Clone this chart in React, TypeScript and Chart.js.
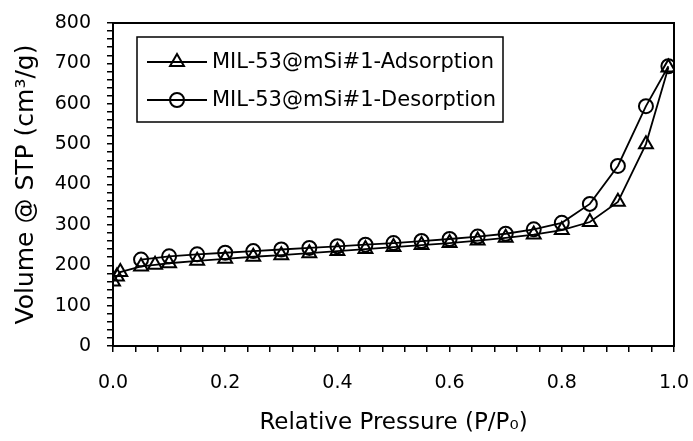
import { useEffect, useRef } from "react";
import { Chart, registerables } from "chart.js";
Chart.register(...registerables);

const adsorptionLabel = "MIL-53@mSi#1-Adsorption";
const desorptionLabel = "MIL-53@mSi#1-Desorption";

const adsorptionP = [0.0, 0.007, 0.013, 0.05, 0.075, 0.1, 0.15, 0.2, 0.25, 0.3, 0.35, 0.4, 0.45, 0.5, 0.55, 0.6, 0.65, 0.7, 0.75, 0.8, 0.85, 0.9, 0.95, 0.99];
const adsorptionV = [160, 172, 183, 197, 201, 205, 211, 216, 221, 225, 230, 235, 240, 245, 250, 255, 261, 268, 276, 287, 307, 357, 500, 690];

const desorptionP = [0.99, 0.95, 0.9, 0.85, 0.8, 0.75, 0.7, 0.65, 0.6, 0.55, 0.5, 0.45, 0.4, 0.35, 0.3, 0.25, 0.2, 0.15, 0.1, 0.05];
const desorptionV = [693, 594, 446, 352, 305, 289, 278, 271, 265, 260, 255, 251, 247, 243, 239, 235, 231, 227, 222, 214];

const xTickLabels = ["0.0", "0.2", "0.4", "0.6", "0.8", "1.0"];
const yTickLabels = ["0", "100", "200", "300", "400", "500", "600", "700", "800"];

const FONT = "'DejaVu Sans', sans-serif";

function drawMarker(ctx: CanvasRenderingContext2D, style: string, x: number, y: number, r: number) {
  ctx.beginPath();
  if (style === "triangle") {
    let rad = 0;
    ctx.moveTo(x + Math.sin(rad) * r, y - Math.cos(rad) * r);
    rad += (2 * Math.PI) / 3;
    ctx.lineTo(x + Math.sin(rad) * r, y - Math.cos(rad) * r);
    rad += (2 * Math.PI) / 3;
    ctx.lineTo(x + Math.sin(rad) * r, y - Math.cos(rad) * r);
    ctx.closePath();
  } else {
    ctx.arc(x, y, r, 0, Math.PI * 2);
  }
  ctx.stroke();
}

export default function App() {
  const ref = useRef<HTMLCanvasElement>(null);
  useEffect(() => {
    const canvas = ref.current!;
    const boxPlugin = {
      id: "box",
      afterDraw(chart: any) {
        const { ctx, chartArea: a } = chart;
        ctx.save();
        ctx.strokeStyle = "#000";
        ctx.lineWidth = 2;
        ctx.strokeRect(a.left, a.top, a.right - a.left, a.bottom - a.top);
        ctx.restore();
      },
    };
    const legendPlugin = {
      id: "boxLegend",
      afterDraw(chart: any) {
        const ctx: CanvasRenderingContext2D = chart.ctx;
        const a = chart.chartArea;
        const bx = a.left + 24;
        const by = a.top + 14;
        const bw = 366;
        const bh = 85;
        ctx.save();
        ctx.fillStyle = "#fff";
        ctx.fillRect(bx, by, bw, bh);
        ctx.strokeStyle = "#000";
        ctx.lineWidth = 1.5;
        ctx.strokeRect(bx, by, bw, bh);
        ctx.font = `21px ${FONT}`;
        ctx.textBaseline = "middle";
        ctx.textAlign = "left";
        chart.data.datasets.forEach((ds: any, i: number) => {
          const y = by + 25 + i * 38;
          ctx.strokeStyle = "#000";
          ctx.lineWidth = 1.8;
          ctx.beginPath();
          ctx.moveTo(bx + 10, y);
          ctx.lineTo(bx + 70, y);
          ctx.stroke();
          ctx.lineWidth = 2;
          drawMarker(ctx, ds.pointStyle, bx + 40, y, ds.pointRadius);
          ctx.fillStyle = "#000";
          ctx.fillText(ds.label, bx + 75, y + 1);
        });
        ctx.restore();
      },
    };
    const chart = new Chart(canvas, {
      type: "line",
      data: {
        datasets: [
          {
            label: adsorptionLabel,
            data: adsorptionP.map((x, i) => ({ x, y: adsorptionV[i] })),
            borderColor: "#000",
            borderWidth: 1.8,
            pointStyle: "triangle",
            pointRadius: 8,
            pointBorderWidth: 2,
            pointBorderColor: "#000",
            pointBackgroundColor: "rgba(0,0,0,0)",
            tension: 0,
          },
          {
            label: desorptionLabel,
            data: desorptionP.map((x, i) => ({ x, y: desorptionV[i] })),
            borderColor: "#000",
            borderWidth: 1.8,
            pointStyle: "circle",
            pointRadius: 7,
            pointBorderWidth: 2,
            pointBorderColor: "#000",
            pointBackgroundColor: "rgba(0,0,0,0)",
            tension: 0,
          },
        ],
      },
      options: {
        animation: false,
        responsive: false,
        layout: { padding: { top: 23, right: 19, left: 0, bottom: 0 } },
        plugins: { legend: { display: false }, tooltip: { enabled: false } },
        scales: {
          x: {
            type: "linear",
            min: 0,
            max: 1,
            afterFit: (s: any) => {
              s.height = 95;
              s.paddingLeft = 0;
              s.paddingRight = 0;
            },
            ticks: {
              stepSize: 0.04,
              autoSkip: false,
              maxRotation: 0,
              padding: 20,
              color: "#000",
              font: { family: FONT, size: 19 },
              callback: (v: any) => {
                const k = Math.round(Number(v) * 5);
                return Math.abs(Number(v) * 5 - k) < 1e-6 ? xTickLabels[k] : "";
              },
            },
            grid: { drawOnChartArea: false, drawTicks: true, tickLength: 6, color: "#000", lineWidth: 1.5 },
            border: { color: "#000", width: 2 },
            title: {
              display: true,
              text: "Relative Pressure (P/P₀)",
              color: "#000",
              font: { family: FONT, size: 23 },
              padding: { top: 0, bottom: 4 },
            },
          },
          y: {
            type: "linear",
            min: 0,
            max: 800,
            afterFit: (s: any) => {
              s.width = 113;
              s.paddingTop = 0;
              s.paddingBottom = 0;
            },
            ticks: {
              stepSize: 20,
              autoSkip: false,
              padding: 16,
              color: "#000",
              font: { family: FONT, size: 19 },
              callback: (v: any) => {
                const n = Number(v);
                return n % 100 === 0 ? yTickLabels[n / 100] : "";
              },
            },
            grid: { drawOnChartArea: false, drawTicks: true, tickLength: 6, color: "#000", lineWidth: 1.5 },
            border: { color: "#000", width: 2 },
            title: {
              display: true,
              text: "Volume @ STP (cm³/g)",
              color: "#000",
              font: { family: FONT, size: 25 },
              padding: { top: 11, bottom: 0 },
            },
          },
        },
      },
      plugins: [boxPlugin, legendPlugin],
    });
    return () => chart.destroy();
  }, []);
  return (
    <div style={{ position: "fixed", left: 0, top: 0, width: 693, height: 441, background: "#fff" }}>
      <canvas ref={ref} width={693} height={441} style={{ display: "block" }} />
    </div>
  );
}
